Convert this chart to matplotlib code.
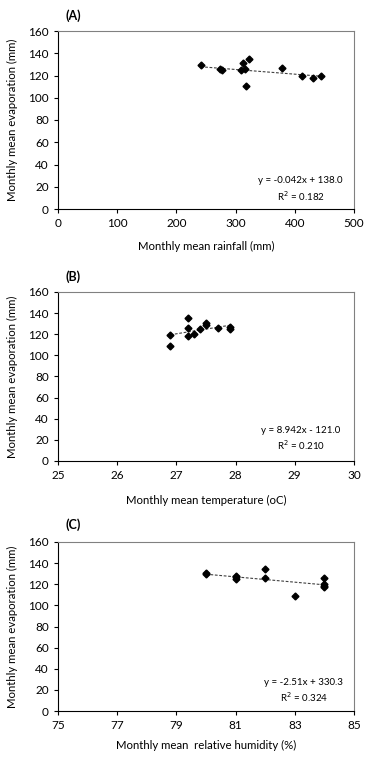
import numpy as np
import matplotlib
matplotlib.use("Agg")
from matplotlib import pyplot as plt

plt.rcParams['font.family'] = ['Lato', 'DejaVu Sans']

# panel A: rainfall vs evaporation
rain = [241, 274, 277, 309, 313, 316, 322, 317, 378, 412, 431, 445]
evap_a = [129.5, 125.5, 125, 124.5, 131, 126, 134.5, 110.5, 126.5, 120, 118, 120]
# panel B: temperature vs evaporation
temp = [26.9, 26.9, 27.2, 27.2, 27.2, 27.3, 27.4, 27.5, 27.5, 27.7, 27.9, 27.9]
evap_b = [119.5, 109, 135, 126, 118, 120.5, 125, 131, 129, 125.5, 126.5, 124.5]
# panel C: relative humidity vs evaporation
rh = [80, 80, 81, 81, 81, 82, 82, 83, 84, 84, 84, 84]
evap_c = [131, 130, 128, 126.5, 124.5, 134.5, 126, 109, 126, 120, 118.5, 117]

# trendline coefficients as printed on the chart
slopes = [-0.042, 8.942, -2.51]
intercepts = [138.0, -121.0, 330.3]
eq_texts = ["y = -0.042x + 138.0\nR$^2$ = 0.182",
            "y = 8.942x - 121.0\nR$^2$ = 0.210",
            "y = -2.51x + 330.3\nR$^2$ = 0.324"]

panel_labels = ["(A)", "(B)", "(C)"]
xlabels = ["Monthly mean rainfall (mm)", "Monthly mean temperature (oC)",
           "Monthly mean  relative humidity (%)"]
xlims = [(0, 500), (25, 30), (75, 85)]
xticks = [[0, 100, 200, 300, 400, 500], [25, 26, 27, 28, 29, 30], [75, 77, 79, 81, 83, 85]]
yticks = [0, 20, 40, 60, 80, 100, 120, 140, 160]

W, H = 368, 761
fig = plt.figure(figsize=(W / 100, H / 100), dpi=100)

# axes boxes in pixels: left, top, right, bottom
boxes = [(58, 31, 354, 209), (58, 292, 354, 461), (58, 542, 354, 711)]
label_y = [16, 277, 525]
xlabel_off = [37, 39, 34]
eq_pos = [(0.82, 0.11), (0.82, 0.13), (0.83, 0.12)]

xs = [rain, temp, rh]
ys = [evap_a, evap_b, evap_c]

for i in range(3):
    l, t, r, b = boxes[i]
    ax = fig.add_axes([l / W, 1 - b / H, (r - l) / W, (b - t) / H])
    x = np.array(xs[i])
    ax.plot(x, ys[i], 'D', color='black', ms=3.5, zorder=3)
    xx = np.array([x.min(), x.max()])
    ax.plot(xx, slopes[i] * xx + intercepts[i], '--', color='#404040', lw=0.8, dashes=(2.5, 1.5))
    ax.set_xlim(*xlims[i])
    ax.set_ylim(0, 160)
    ax.set_xticks(xticks[i])
    ax.set_yticks(yticks)
    ax.tick_params(labelsize=8.5, length=3, width=0.8, pad=3.5, colors='black')
    for s in ['top', 'right']:
        ax.spines[s].set_color('#808080')
    for s in ['left', 'bottom']:
        ax.spines[s].set_color('black')
    for s in ax.spines.values():
        s.set_linewidth(0.8)
    ax.set_xlabel(xlabels[i], fontsize=8.2, va='center')
    ax.xaxis.set_label_coords(0.5, -xlabel_off[i] / (b - t))
    ax.set_ylabel("Monthly mean evaporation (mm)", fontsize=8.2, va='center')
    ax.yaxis.set_label_coords(-46 / (r - l), 0.5)
    ax.text(eq_pos[i][0], eq_pos[i][1], eq_texts[i], transform=ax.transAxes,
            ha='center', va='center', multialignment='center', fontsize=7, linespacing=1.3)
    fig.text(65 / W, 1 - label_y[i] / H, panel_labels[i], fontsize=9, fontweight='bold',
             ha='left', va='center')

fig.savefig("out.png", dpi=100)
